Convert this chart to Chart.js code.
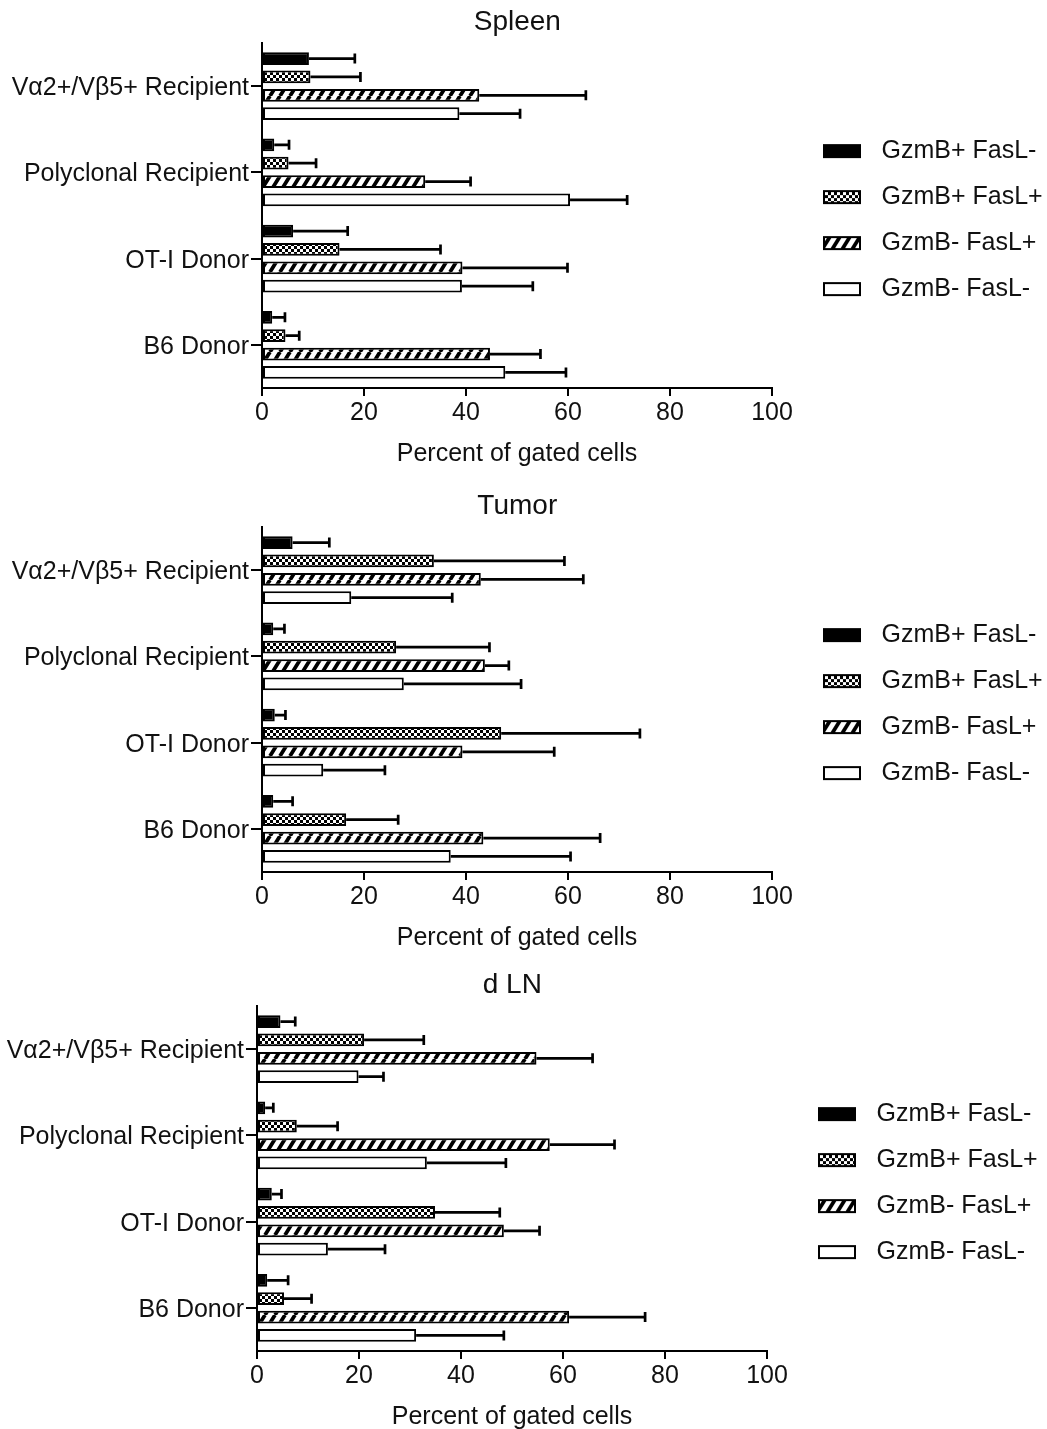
<!DOCTYPE html>
<html>
<head>
<meta charset="utf-8">
<script src="https://cdn.jsdelivr.net/npm/chart.js@4.4.1/dist/chart.umd.min.js"></script>
<style>
html, body { margin: 0; padding: 0; background: #fff; width: 1047px; height: 1429px; overflow: hidden; }
.panel { position: absolute; width: 1047px; height: 482px; }
#p1 { left: 0; top: 0; }
#p2 { left: 0; top: 484px; }
#p3 { left: -5px; top: 963px; }
</style>
</head>
<body>
<div class="panel" id="p1"><canvas id="c1" width="1047" height="482"></canvas></div>
<div class="panel" id="p2"><canvas id="c2" width="1047" height="482"></canvas></div>
<div class="panel" id="p3"><canvas id="c3" width="1047" height="482"></canvas></div>
<script>
// ---------- DATA ----------
const categories = ['Vα2+/Vβ5+ Recipient', 'Polyclonal Recipient', 'OT-I Donor', 'B6 Donor'];
const seriesNames = ['GzmB+ FasL-', 'GzmB+ FasL+', 'GzmB- FasL+', 'GzmB- FasL-'];
const xTickValues = [0, 20, 40, 60, 80, 100];
const panelTitles = ['Spleen', 'Tumor', 'd LN'];
const axisTitle = 'Percent of gated cells';

// Spleen
const spleenGzmBposFasLneg = [9.2, 2.4, 6.1, 2.0];
const spleenGzmBposFasLpos = [9.5, 5.2, 15.2, 4.6];
const spleenGzmBnegFasLpos = [42.6, 32.0, 39.3, 44.7];
const spleenGzmBnegFasLneg = [38.7, 60.4, 39.2, 47.7];
const spleenErrGzmBposFasLneg = [9.0, 2.9, 10.7, 2.5];
const spleenErrGzmBposFasLpos = [9.8, 5.4, 19.8, 2.7];
const spleenErrGzmBnegFasLpos = [20.9, 8.9, 20.6, 9.9];
const spleenErrGzmBnegFasLneg = [11.9, 11.2, 13.9, 11.9];

// Tumor
const tumorGzmBposFasLneg = [6.0, 2.2, 2.5, 2.2];
const tumorGzmBposFasLpos = [33.7, 26.3, 46.9, 16.5];
const tumorGzmBnegFasLpos = [42.9, 43.7, 39.3, 43.4];
const tumorGzmBnegFasLneg = [17.5, 27.8, 12.0, 37.0];
const tumorErrGzmBposFasLneg = [7.2, 2.2, 2.1, 3.8];
const tumorErrGzmBposFasLpos = [25.6, 18.3, 27.2, 10.2];
const tumorErrGzmBnegFasLpos = [20.1, 4.7, 18.0, 22.9];
const tumorErrGzmBnegFasLneg = [19.8, 23.0, 12.1, 23.5];

// d LN
const dlnGzmBposFasLneg = [4.6, 1.6, 2.9, 2.0];
const dlnGzmBposFasLpos = [21.0, 7.8, 34.9, 5.3];
const dlnGzmBnegFasLpos = [54.8, 57.4, 48.4, 61.2];
const dlnGzmBnegFasLneg = [19.9, 33.3, 13.9, 31.2];
const dlnErrGzmBposFasLneg = [2.9, 1.6, 1.9, 4.1];
const dlnErrGzmBposFasLpos = [11.7, 8.0, 12.7, 5.4];
const dlnErrGzmBnegFasLpos = [11.0, 12.7, 7.0, 14.9];
const dlnErrGzmBnegFasLneg = [4.9, 15.5, 11.2, 17.2];

// ---------- STYLE ----------
Chart.defaults.font.family = "'Liberation Sans', Arial, Helvetica, sans-serif";
Chart.defaults.color = '#111';

function makeFill(kind) {
  if (kind === 'solid') return '#000';
  if (kind === 'white') return '#fff';
  const c = document.createElement('canvas');
  let ctx;
  if (kind === 'check') {
    c.width = 6; c.height = 6;
    ctx = c.getContext('2d');
    ctx.fillStyle = '#fff'; ctx.fillRect(0, 0, 6, 6);
    ctx.fillStyle = '#000'; ctx.fillRect(0, 0, 3, 3); ctx.fillRect(3, 3, 3, 3);
  } else {
    c.width = 10; c.height = 16;
    ctx = c.getContext('2d');
    ctx.fillStyle = '#fff'; ctx.fillRect(0, 0, 10, 16);
    ctx.strokeStyle = '#000'; ctx.lineWidth = 3.8;
    ctx.beginPath();
    for (const k of [-1, 0, 1]) { ctx.moveTo(k * 10, 16); ctx.lineTo(k * 10 + 10, 0); }
    ctx.stroke();
  }
  return ctx.createPattern(c, 'repeat');
}
const fillKinds = ['solid', 'check', 'hatch', 'white'];

function makeLegendIcon(kind) {
  const c = document.createElement('canvas');
  c.width = 60; c.height = 16;
  const ctx = c.getContext('2d');
  ctx.fillStyle = makeFill(kind);
  ctx.fillRect(22, 1, 38, 14);
  ctx.strokeStyle = '#000'; ctx.lineWidth = 2;
  ctx.strokeRect(23, 2, 36, 12);
  return c;
}

const errorBarPlugin = {
  id: 'errorBars',
  afterDatasetsDraw(chart) {
    const ctx = chart.ctx;
    const xs = chart.scales.x;
    ctx.save();
    ctx.strokeStyle = '#000';
    ctx.lineWidth = 2.7;
    chart.data.datasets.forEach((ds, di) => {
      const meta = chart.getDatasetMeta(di);
      meta.data.forEach((bar, i) => {
        const v = ds.data[i], e = ds.errors[i];
        const x0 = xs.getPixelForValue(v);
        const x1 = xs.getPixelForValue(v + e);
        const y = bar.y;
        const h = 10;
        ctx.beginPath();
        ctx.moveTo(x0, y); ctx.lineTo(x1, y);
        ctx.moveTo(x1, y - h / 2); ctx.lineTo(x1, y + h / 2);
        ctx.stroke();
      });
    });
    ctx.restore();
  }
};

// let the legend text run to the canvas edge instead of being clipped
const legendRoomPlugin = {
  id: 'legendRoom',
  afterLayout(chart) {
    const lg = chart.legend;
    if (lg) { lg.right = chart.width; lg.width = lg.right - lg.left; }
  }
};

function makeChart(canvasId, title, values, errors) {
  const datasets = seriesNames.map((name, i) => ({
    label: name,
    data: values[i],
    errors: errors[i],
    backgroundColor: makeFill(fillKinds[i]),
    borderColor: '#000',
    borderWidth: 2,
    borderSkipped: false,
    barPercentage: 0.69,
    categoryPercentage: 0.853
  }));
  const icons = fillKinds.map(makeLegendIcon);
  return new Chart(document.getElementById(canvasId), {
    type: 'bar',
    data: { labels: categories, datasets },
    plugins: [errorBarPlugin, legendRoomPlugin],
    options: {
      indexAxis: 'y',
      responsive: false,
      animation: false,
      events: [],
      layout: { padding: { left: 8, right: 20.4, top: 0, bottom: 13 } },
      scales: {
        x: {
          min: 0, max: 100,
          afterBuildTicks: s => { s.ticks = xTickValues.map(v => ({ value: v })); },
          grid: { drawOnChartArea: false, drawTicks: true, tickLength: 8, color: '#000', lineWidth: 2 },
          border: { display: true, color: '#000', width: 2 },
          ticks: { padding: 2, color: '#111', font: { size: 25 } },
          title: { display: true, text: axisTitle, color: '#111', font: { size: 25 }, padding: { top: 9, bottom: 0 } }
        },
        y: {
          afterFit: s => { s.width = 254; },
          grid: { offset: false, drawOnChartArea: false, drawTicks: true, tickLength: 11, color: '#000', lineWidth: 2 },
          border: { display: true, color: '#000', width: 2 },
          ticks: { padding: 2, labelOffset: 2, color: '#111', font: { size: 25 } }
        }
      },
      plugins: {
        title: { display: true, text: title, color: '#111', font: { size: 28, weight: 'normal' }, padding: { top: 5.2, bottom: 4.2 } },
        tooltip: { enabled: false },
        legend: {
          position: 'right',
          fullSize: false,
          maxWidth: 254.6,
          title: { display: true, text: '', font: { size: 1 }, padding: 4 },
          labels: {
            usePointStyle: true,
            pointStyleWidth: 76,
            padding: 21,
            color: '#111',
            font: { size: 25 },
            generateLabels: chart => chart.data.datasets.map((ds, i) => ({
              text: ds.label,
              pointStyle: icons[i],
              fillStyle: '#000',
              strokeStyle: '#000',
              lineWidth: 0,
              hidden: false,
              datasetIndex: i,
              fontColor: '#111'
            }))
          }
        }
      }
    }
  });
}

makeChart('c1', panelTitles[0],
  [spleenGzmBposFasLneg, spleenGzmBposFasLpos, spleenGzmBnegFasLpos, spleenGzmBnegFasLneg],
  [spleenErrGzmBposFasLneg, spleenErrGzmBposFasLpos, spleenErrGzmBnegFasLpos, spleenErrGzmBnegFasLneg]);
makeChart('c2', panelTitles[1],
  [tumorGzmBposFasLneg, tumorGzmBposFasLpos, tumorGzmBnegFasLpos, tumorGzmBnegFasLneg],
  [tumorErrGzmBposFasLneg, tumorErrGzmBposFasLpos, tumorErrGzmBnegFasLpos, tumorErrGzmBnegFasLneg]);
makeChart('c3', panelTitles[2],
  [dlnGzmBposFasLneg, dlnGzmBposFasLpos, dlnGzmBnegFasLpos, dlnGzmBnegFasLneg],
  [dlnErrGzmBposFasLneg, dlnErrGzmBposFasLpos, dlnErrGzmBnegFasLpos, dlnErrGzmBnegFasLneg]);
</script>
</body>
</html>
